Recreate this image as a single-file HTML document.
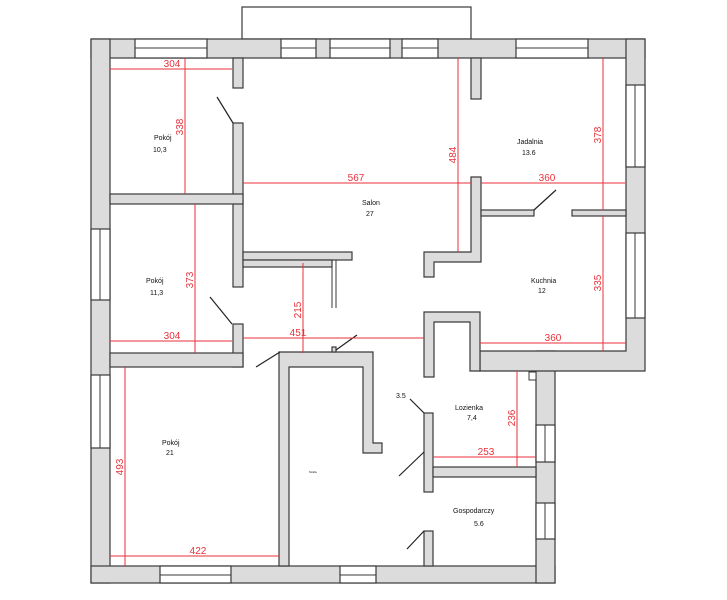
<!DOCTYPE html>
<html><head><meta charset="utf-8"><style>
html,body{margin:0;padding:0;background:#fff;}
svg{display:block}
text{font-family:"Liberation Sans",sans-serif}
.w{fill:#dcdcdc;stroke:#3a3a3a;stroke-width:1.2}
.win{fill:#fff;stroke:#3a3a3a;stroke-width:1.2}
.d{stroke:#222;stroke-width:1.2;fill:none}
.r{stroke:#e8323c;stroke-width:1;fill:none}
.rt{fill:#e8323c;font-size:10px}
.l{fill:#111;font-size:7px}
</style></head><body>
<svg width="727" height="600" viewBox="0 0 727 600" xmlns="http://www.w3.org/2000/svg">
<!-- balcony -->
<rect x="242" y="7" width="229" height="32" fill="#fff" stroke="#3a3a3a" stroke-width="1.2"/>
<!-- outer walls -->
<rect class="w" x="91" y="39" width="554" height="19"/>
<rect class="w" x="91" y="39" width="19" height="544"/>
<rect class="w" x="91" y="566" width="464" height="17"/>
<rect class="w" x="536" y="351" width="19" height="232"/>
<path class="w" d="M626 39 H645 V371 H480 V351 H626 Z"/>
<!-- top windows -->
<rect class="win" x="135" y="39" width="72" height="19"/><line x1="135" y1="48" x2="207" y2="48" stroke="#3a3a3a"/>
<rect class="win" x="281" y="39" width="35" height="19"/><line x1="281" y1="48" x2="316" y2="48" stroke="#3a3a3a"/>
<rect class="win" x="330" y="39" width="60" height="19"/><line x1="330" y1="48" x2="390" y2="48" stroke="#3a3a3a"/>
<rect class="win" x="402" y="39" width="36" height="19"/><line x1="402" y1="48" x2="438" y2="48" stroke="#3a3a3a"/>
<rect class="win" x="516" y="39" width="72" height="19"/><line x1="516" y1="48" x2="588" y2="48" stroke="#3a3a3a"/>
<!-- left windows -->
<rect class="win" x="91" y="229" width="19" height="71"/><line x1="100" y1="229" x2="100" y2="300" stroke="#3a3a3a"/>
<rect class="win" x="91" y="375" width="19" height="73"/><line x1="100" y1="375" x2="100" y2="448" stroke="#3a3a3a"/>
<!-- right windows -->
<rect class="win" x="626" y="85" width="19" height="82"/><line x1="635" y1="85" x2="635" y2="167" stroke="#3a3a3a"/>
<rect class="win" x="626" y="233" width="19" height="85"/><line x1="635" y1="233" x2="635" y2="318" stroke="#3a3a3a"/>
<rect class="win" x="536" y="425" width="19" height="37"/><line x1="545" y1="425" x2="545" y2="462" stroke="#3a3a3a"/>
<rect class="win" x="536" y="503" width="19" height="36"/><line x1="545" y1="503" x2="545" y2="539" stroke="#3a3a3a"/>
<!-- bottom windows -->
<rect class="win" x="160" y="566" width="71" height="17"/><line x1="160" y1="575" x2="231" y2="575" stroke="#3a3a3a"/>
<rect class="win" x="340" y="566" width="36" height="17"/><line x1="340" y1="575" x2="376" y2="575" stroke="#3a3a3a"/>
<!-- interior walls -->
<rect class="w" x="233" y="58" width="10" height="30"/>
<rect class="w" x="233" y="123" width="10" height="164"/>
<rect class="w" x="110" y="194" width="133" height="10"/>
<rect class="w" x="243" y="252" width="109" height="8"/>
<rect class="w" x="243" y="260" width="89" height="7" fill="#fff"/>
<line x1="332" y1="260" x2="332" y2="308" stroke="#3a3a3a"/><line x1="336" y1="260" x2="336" y2="308" stroke="#3a3a3a"/>
<rect class="w" x="233" y="324" width="10" height="43"/>
<rect class="w" x="110" y="353" width="133" height="14"/>
<!-- closet U -->
<path class="w" d="M279 352 H373 V443 H382 V453 H363 V367 H289 V566 H279 Z"/>
<rect class="w" x="332" y="347" width="4" height="5"/>
<!-- salon/jadalnia wall -->
<rect class="w" x="471" y="58" width="10" height="41"/>
<path class="w" d="M471 177 H481 V262 H434 V277 H424 V252 H471 Z"/>
<rect class="w" x="481" y="210" width="53" height="6"/>
<rect class="w" x="572" y="210" width="54" height="6"/>
<!-- kitchen lower box -->
<path class="w" d="M424 312 H480 V371 H470 V322 H434 V377 H424 Z"/>
<!-- lazienka -->
<rect class="w" x="424" y="413" width="9" height="79"/>
<rect class="w" x="433" y="467" width="103" height="10"/>
<rect class="w" x="424" y="531" width="9" height="35"/>
<rect x="529" y="372" width="7" height="8" fill="#fff" stroke="#3a3a3a"/>
<!-- doors -->
<line class="d" x1="217" y1="97" x2="233" y2="123"/>
<line class="d" x1="210" y1="297" x2="232" y2="324"/>
<line class="d" x1="256" y1="367" x2="280" y2="352"/>
<line class="d" x1="336" y1="350" x2="357" y2="335"/>
<line class="d" x1="534" y1="210" x2="556" y2="190"/>
<line class="d" x1="410" y1="399" x2="424" y2="413"/>
<line class="d" x1="399" y1="476" x2="424" y2="452"/>
<line class="d" x1="407" y1="549" x2="424" y2="531"/>
<!-- dimensions -->
<g class="r">
<line x1="110" y1="69" x2="232" y2="69"/>
<line x1="185" y1="58" x2="185" y2="194"/>
<line x1="243" y1="183" x2="471" y2="183"/>
<line x1="458" y1="58" x2="458" y2="252"/>
<line x1="481" y1="183" x2="625" y2="183"/>
<line x1="603" y1="58" x2="603" y2="210"/>
<line x1="603" y1="216" x2="603" y2="351"/>
<line x1="195" y1="204" x2="195" y2="353"/>
<line x1="110" y1="341" x2="232" y2="341"/>
<line x1="303" y1="263" x2="303" y2="353"/>
<line x1="243" y1="338" x2="424" y2="338"/>
<line x1="480" y1="343" x2="626" y2="343"/>
<line x1="517" y1="371" x2="517" y2="467"/>
<line x1="433" y1="457" x2="536" y2="457"/>
<line x1="125" y1="367" x2="125" y2="566"/>
<line x1="110" y1="556" x2="279" y2="556"/>
</g>
<g class="rt">
<text x="172" y="67" text-anchor="middle">304</text>
<text x="172" y="339" text-anchor="middle">304</text>
<text x="356" y="181" text-anchor="middle">567</text>
<text x="547" y="181" text-anchor="middle">360</text>
<text x="553" y="341" text-anchor="middle">360</text>
<text x="298" y="336" text-anchor="middle">451</text>
<text x="486" y="455" text-anchor="middle">253</text>
<text x="198" y="554" text-anchor="middle">422</text>
<text transform="translate(183,127) rotate(-90)" text-anchor="middle">338</text>
<text transform="translate(193,280) rotate(-90)" text-anchor="middle">373</text>
<text transform="translate(456,155) rotate(-90)" text-anchor="middle">484</text>
<text transform="translate(601,135) rotate(-90)" text-anchor="middle">378</text>
<text transform="translate(601,283) rotate(-90)" text-anchor="middle">335</text>
<text transform="translate(301,310) rotate(-90)" text-anchor="middle">215</text>
<text transform="translate(515,418) rotate(-90)" text-anchor="middle">236</text>
<text transform="translate(123,467) rotate(-90)" text-anchor="middle">493</text>
</g>
<!-- labels -->
<g class="l">
<text x="154" y="140">Pokój</text><text x="153" y="152">10,3</text>
<text x="362" y="205">Salon</text><text x="366" y="216">27</text>
<text x="517" y="144">Jadalnia</text><text x="522" y="155">13.6</text>
<text x="146" y="283">Pokój</text><text x="150" y="295">11,3</text>
<text x="531" y="283">Kuchnia</text><text x="538" y="293">12</text>
<text x="162" y="445">Pokój</text><text x="166" y="455">21</text>
<text x="455" y="410">Lozienka</text><text x="467" y="420">7,4</text>
<text x="396" y="398">3.5</text>
<text x="453" y="513">Gospodarczy</text><text x="474" y="526">5.6</text>
<text x="309" y="473" style="font-size:3px">Szafa</text>
</g>
</svg>
</body></html>
